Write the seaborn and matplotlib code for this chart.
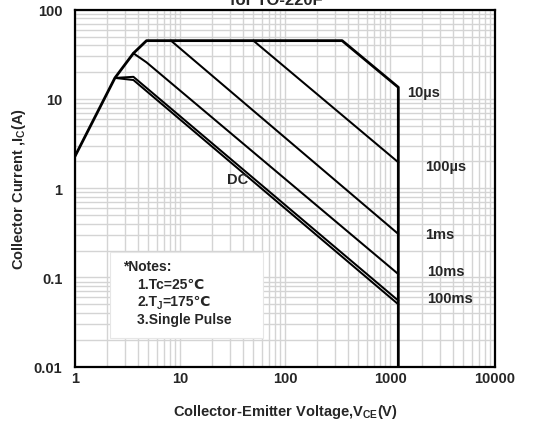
import matplotlib
matplotlib.use("Agg")
import matplotlib.pyplot as plt
import matplotlib.ticker as mticker
from matplotlib.patches import Rectangle
from matplotlib.transforms import offset_copy
import pandas as pd
import seaborn as sns

# Safe operating area curves (V_CE in volts, I_C in amperes)
v_10us = [1, 2.4, 3.6, 4.8, 350, 1200, 1200]
i_10us = [2.28, 17.2, 32.5, 45, 45, 13.5, 0.01]
v_100us = [50, 1200]
i_100us = [45, 1.95]
v_1ms = [8.2, 1200]
i_1ms = [45, 0.307]
v_10ms = [3.6, 4.8, 1200]
i_10ms = [32.5, 25.7, 0.109]
v_100ms = [2.4, 3.6, 1200]
i_100ms = [17.2, 17.7, 0.055]
v_dc = [2.4, 3.6, 1200]
i_dc = [17.2, 16.3, 0.050]

curve_names = ["10µs", "100µs", "1ms", "10ms", "100ms", "DC"]
x_ticks = [1, 10, 100, 1000, 10000]
x_tick_labels = ["1", "10", "100", "1000", "10000"]
y_ticks = [0.01, 0.1, 1, 10, 100]
y_tick_labels = ["0.01", "0.1", "1", "10", "100"]
# each note is a list of (text, is_subscript) pieces
notes = [
    [("*Notes:", False)],
    [("1.Tc=25℃", False)],
    [("2.T", False), ("J", True), ("=175℃", False)],
    [("3.Single Pulse", False)],
]

sns.set_theme(style="white")
plt.rcParams["font.family"] = ["Liberation Sans", "DejaVu Sans"]
plt.rcParams["mathtext.default"] = "regular"

frames = []
for name, v, i in zip(curve_names,
                      [v_10us, v_100us, v_1ms, v_10ms, v_100ms, v_dc],
                      [i_10us, i_100us, i_1ms, i_10ms, i_100ms, i_dc]):
    frames.append(pd.DataFrame({"V": v, "I": i, "curve": name}))
df = pd.concat(frames, ignore_index=True)

fig = plt.figure(figsize=(5.45, 4.31), dpi=100)
ax = fig.add_axes([75 / 545, 1 - 367.7 / 431, 420 / 545, 357 / 431])

ax.set_xscale("log")
ax.set_yscale("log")
ax.set_xlim(1, 10000)
ax.set_ylim(0.01, 100)

# light log grid behind the curves
ax.grid(True, which="both", color="#d4d4d4", linewidth=1.0)
ax.set_axisbelow(True)

# outer boundary drawn a bit heavier than the pulse-width curves
for name in curve_names:
    lw = 2.0 if name == "10µs" else 1.45
    sns.lineplot(data=df[df["curve"] == name], x="V", y="I", estimator=None,
                 sort=False, color="black", linewidth=lw, ax=ax, legend=False)

for s in ax.spines.values():
    s.set_color("black")
    s.set_linewidth(1.6)

ax.xaxis.set_major_locator(mticker.FixedLocator(x_ticks))
ax.xaxis.set_major_formatter(mticker.FixedFormatter(x_tick_labels))
ax.yaxis.set_major_locator(mticker.FixedLocator(y_ticks))
ax.yaxis.set_major_formatter(mticker.FixedFormatter(y_tick_labels))
ax.xaxis.set_minor_locator(mticker.LogLocator(base=10, subs=range(2, 10)))
ax.yaxis.set_minor_locator(mticker.LogLocator(base=10, subs=range(2, 10)))
ax.xaxis.set_minor_formatter(mticker.NullFormatter())
ax.yaxis.set_minor_formatter(mticker.NullFormatter())
ax.tick_params(which="both", length=0)
ax.tick_params(axis="x", pad=3)
ax.tick_params(axis="y", pad=9)
for lab in ax.get_xticklabels() + ax.get_yticklabels():
    lab.set_fontweight("bold")
    lab.set_fontsize(10.5)

ax.set_xlabel("Collector-Emitter Voltage,V$_{\\mathregular{CE}}$(V)",
              fontsize=10.5, fontweight="bold", labelpad=12)
ax.set_ylabel("Collector Current ,I$_{\\mathregular{C}}$(A)",
              fontsize=10.5, fontweight="bold", labelpad=4)

# curve labels
label_pos = {"10µs": (1450, 12), "100µs": (2150, 1.77), "1ms": (2150, 0.307),
             "10ms": (2250, 0.118), "100ms": (2250, 0.059), "DC": (35, 1.27)}
for name in curve_names:
    x, y = label_pos[name]
    ha = "center" if name == "DC" else "left"
    ax.text(x, y, name, fontsize=10.5, fontweight="bold", ha=ha, va="center")

# notes box
ax.add_patch(Rectangle((0.083, 0.080), 0.365, 0.241, transform=ax.transAxes,
                       facecolor="white", edgecolor="#e6e6e6", linewidth=0.8, zorder=3))
note_xy = [(0.114, 0.282), (0.148, 0.232), (0.148, 0.184), (0.148, 0.134)]
renderer = fig.canvas.get_renderer()
for (x, y), pieces in zip(note_xy, notes):
    trans = ax.transAxes
    for text, sub in pieces:
        size = 7 if sub else 10
        tr = offset_copy(trans, fig=fig, x=0, y=-3 if sub else 0, units="points")
        t = ax.text(x, y, text, transform=tr, fontsize=size, fontweight="bold",
                    ha="left", va="center", zorder=4)
        w = t.get_window_extent(renderer=renderer).width
        trans = offset_copy(trans, fig=fig, x=w * 72 / fig.dpi, y=0, units="points")

fig.text(276 / 545, 1 - 5 / 431, "for TO-220F", fontsize=12, fontweight="bold",
         ha="center", va="baseline")

fig.savefig("out.png", dpi=100)
